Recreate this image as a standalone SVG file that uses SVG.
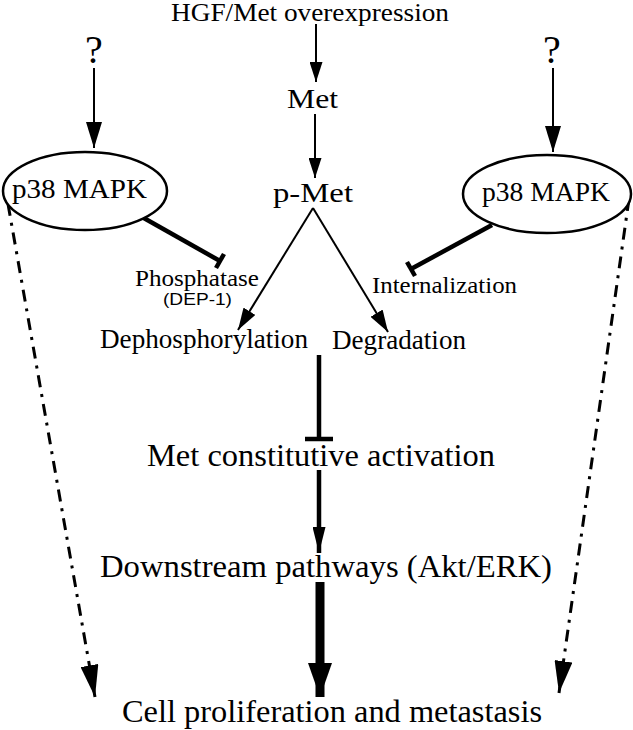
<svg xmlns="http://www.w3.org/2000/svg" width="633" height="730" viewBox="0 0 633 730">
<style>
.t{font-family:"Liberation Serif","Times New Roman",serif;fill:#000}
.s{font-family:"Liberation Sans",Arial,sans-serif;fill:#000}
.ln{stroke:#000;fill:none}
.th{stroke-width:2}
.tk{stroke-width:4.5}
.dd{stroke-width:3;stroke-dasharray:12 7 3 7}
.el{fill:#fff;stroke:#000;stroke-width:2.5}
</style>
<defs>
<marker id="a1" viewBox="0 0 20 13" refX="20" refY="6.5" markerWidth="20" markerHeight="13" orient="auto" markerUnits="userSpaceOnUse"><path d="M0,0 L20,6.5 L0,13 z"/></marker>
<marker id="a2" viewBox="0 0 26 16" refX="26" refY="8" markerWidth="26" markerHeight="16" orient="auto" markerUnits="userSpaceOnUse"><path d="M0,0 L26,8 L0,16 z"/></marker>
<marker id="a3" viewBox="0 0 22 14" refX="22" refY="7" markerWidth="22" markerHeight="14" orient="auto" markerUnits="userSpaceOnUse"><path d="M0,0 L22,7 L0,14 z"/></marker>
<marker id="a4" viewBox="0 0 26 13" refX="26" refY="6.5" markerWidth="26" markerHeight="13" orient="auto" markerUnits="userSpaceOnUse"><path d="M0,0 L26,6.5 L0,13 z"/></marker>
<marker id="a5" viewBox="0 0 34 24" refX="34" refY="12" markerWidth="34" markerHeight="24" orient="auto" markerUnits="userSpaceOnUse"><path d="M0,0 L34,12 L0,24 z"/></marker>
<marker id="a6" viewBox="0 0 32 18" refX="32" refY="9" markerWidth="32" markerHeight="18" orient="auto" markerUnits="userSpaceOnUse"><path d="M0,0 L32,9 L0,18 z"/></marker>
</defs>

<g id="connectors">
<line class="ln th" x1="316" y1="24" x2="316" y2="82" marker-end="url(#a1)"/>
<line class="ln th" x1="315" y1="114" x2="315" y2="178" marker-end="url(#a1)"/>
<line class="ln th" x1="94" y1="68" x2="94" y2="148" marker-end="url(#a2)"/>
<line class="ln th" x1="553" y1="68" x2="553" y2="152" marker-end="url(#a2)"/>
<line class="ln th" x1="313" y1="208" x2="238" y2="330" marker-end="url(#a3)"/>
<line class="ln th" x1="313" y1="208" x2="388" y2="332" marker-end="url(#a3)"/>
<line class="ln tk" x1="142" y1="217" x2="220" y2="261"/>
<line class="ln tk" x1="224" y1="254" x2="216" y2="268"/>
<line class="ln tk" x1="492" y1="225" x2="411" y2="269"/>
<line class="ln tk" x1="407" y1="262" x2="415" y2="276"/>
<line class="ln tk" x1="319" y1="355" x2="319" y2="439"/>
<line class="ln tk" x1="305" y1="439" x2="333" y2="439"/>
<line class="ln tk" x1="319" y1="470" x2="319" y2="553" marker-end="url(#a4)"/>
<line class="ln" stroke-width="9" x1="320" y1="582" x2="320" y2="697" marker-end="url(#a5)"/>
<line class="ln dd" x1="8" y1="204" x2="95" y2="697" marker-end="url(#a6)"/>
<line class="ln dd" x1="629" y1="199" x2="559" y2="693" marker-end="url(#a6)"/>
</g>

<g id="n-hgf"><text class="t" x="171" y="21" font-size="25" textLength="278" lengthAdjust="spacingAndGlyphs">HGF/Met overexpression</text></g>
<g id="n-met"><text class="t" x="287" y="108" font-size="28" textLength="51" lengthAdjust="spacingAndGlyphs">Met</text></g>
<g id="n-pmet"><text class="t" x="273" y="202" font-size="28" textLength="80" lengthAdjust="spacingAndGlyphs">p-Met</text></g>
<g id="n-q1"><text class="t" x="94" y="63" font-size="40" text-anchor="middle">?</text></g>
<g id="n-q2"><text class="t" x="552" y="63" font-size="40" text-anchor="middle">?</text></g>
<g id="n-p38-left"><ellipse class="el" cx="85" cy="191" rx="82" ry="39"/><text class="t" x="12" y="198" font-size="27" textLength="135" lengthAdjust="spacingAndGlyphs">p38 MAPK</text></g>
<g id="n-p38-right"><ellipse class="el" cx="547" cy="194" rx="84" ry="39"/><text class="t" x="482" y="201" font-size="27" textLength="128" lengthAdjust="spacingAndGlyphs">p38 MAPK</text></g>
<g id="n-phos"><text class="t" x="135" y="286" font-size="23" textLength="124" lengthAdjust="spacingAndGlyphs">Phosphatase</text><text class="s" x="163" y="305" font-size="17" textLength="69" lengthAdjust="spacingAndGlyphs">(DEP-1)</text></g>
<g id="n-intern"><text class="t" x="372" y="293" font-size="24" textLength="145" lengthAdjust="spacingAndGlyphs">Internalization</text></g>
<g id="n-dephos"><text class="t" x="100" y="348" font-size="27" textLength="208" lengthAdjust="spacingAndGlyphs">Dephosphorylation</text></g>
<g id="n-degr"><text class="t" x="332" y="349" font-size="27" textLength="134" lengthAdjust="spacingAndGlyphs">Degradation</text></g>
<g id="n-const"><text class="t" x="147" y="466" font-size="31" textLength="348" lengthAdjust="spacingAndGlyphs">Met constitutive activation</text></g>
<g id="n-down"><text class="t" x="100" y="577" font-size="31" textLength="452" lengthAdjust="spacingAndGlyphs">Downstream pathways (Akt/ERK)</text></g>
<g id="n-cell"><text class="t" x="122" y="722" font-size="31" textLength="420" lengthAdjust="spacingAndGlyphs">Cell proliferation and metastasis</text></g>
</svg>
